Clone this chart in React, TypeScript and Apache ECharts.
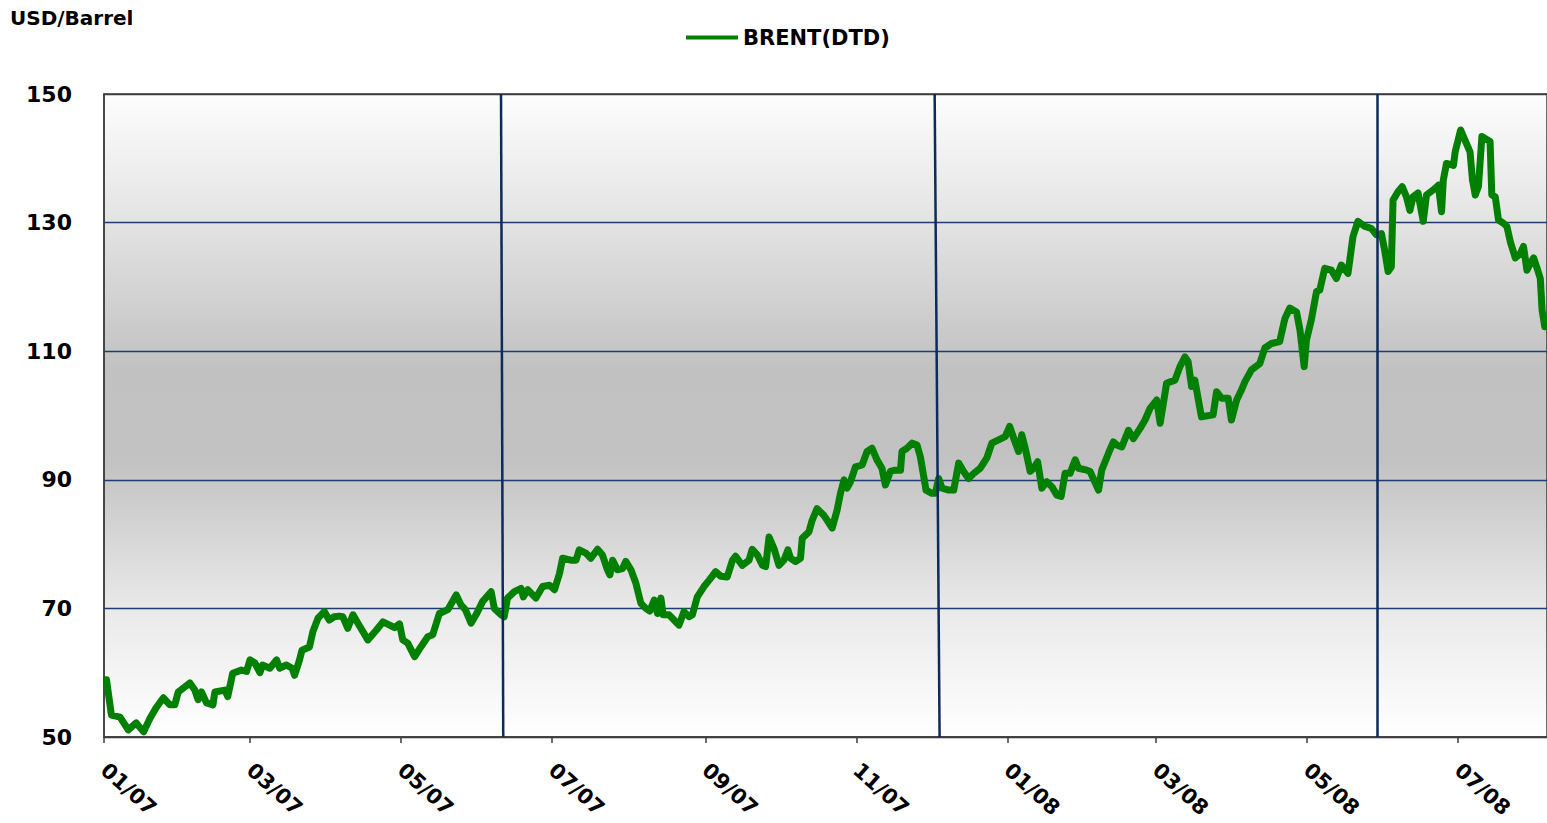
import React, { useEffect, useRef } from "react";
import * as echarts from "echarts";

// x values are days counted from 1 Jan 2007
const tickDays = [0, 59, 120, 181, 243, 304, 365, 425, 486, 547];
const tickLabels = ["01/07", "03/07", "05/07", "07/07", "09/07", "11/07", "01/08", "03/08", "05/08", "07/08"];

const brentDays = [
  1, 3, 6.5, 9.8, 13, 16, 18.6, 21, 24, 26.6, 28.6, 30, 34.7, 36.7, 38, 39.4, 41.4, 44, 44.8, 48.8,
  50, 52, 55.5, 57.6, 59, 61, 63, 64, 67, 69.7, 71, 73.7, 76, 77, 79, 80, 83, 84.4, 86.5, 89,
  91, 93, 95, 96.5, 98.5, 100.6, 103, 106.6, 110, 112.7, 115.4, 117.4, 119.4, 120.7, 122.7, 125.5, 128, 130.8, 132.8, 135.5,
  138.9, 142.3, 144.3, 146, 148.3, 150.3, 153, 156.4, 157.7, 160.4, 161.7, 163, 165.8, 168.5, 169.4, 171.2, 174.5, 177.2, 180, 182,
  184, 185.3, 188.6, 190.7, 192, 194.7, 196.7, 199.4, 201.4, 203.4, 204.4, 205.5, 207.4, 209.5, 210.8, 212.9, 214.9, 216.9, 218.9, 220.5,
  222.3, 223.6, 225, 225.9, 228.3, 230.3, 232.3, 234.3, 236.4, 237.7, 239.7, 242.4, 244.5, 247.1, 249.2, 251.8, 253.9, 255.2, 257.9, 260.6,
  261.9, 264, 266, 267.3, 268.7, 270.7, 272.7, 274.7, 276.3, 277.4, 279.4, 281.4, 282.1, 284.8, 286.1, 288.1, 290.8, 294.2, 296.2, 297.6,
  299, 300.2, 301.6, 303.6, 306.3, 308.3, 310.3, 312.3, 314.3, 315.7, 317.7, 319.7, 321.8, 322.4, 324.4, 326.5, 328.5, 329.8, 331.2, 332.1,
  334.5, 335.9, 337.2, 338.6, 341.3, 343.3, 345.3, 347.3, 349.3, 351.4, 354, 356.7, 358.7, 361.4, 364.1, 365.9, 367.5, 369.5, 370.8, 372.2,
  374.2, 375.6, 377.2, 378.9, 380.9, 383, 385, 386.7, 388.3, 390.3, 392.4, 393.7, 397.1, 398.4, 401.8, 403.1, 405.8, 407.8, 409.2, 411.2,
  413.9, 415.9, 418.6, 420.6, 422.6, 425.3, 426.7, 429.3, 432.7, 434.7, 436.7, 438, 439.4, 440.7, 443.4, 448.1, 449.5, 451.5, 454.2, 455.5,
  457.6, 459.6, 461, 463.6, 467, 469, 471.7, 475, 477.1, 479.1, 481.8, 483.2, 484.9, 485.8, 487.8, 489.9, 491.2, 493.2, 495.9, 497.9,
  499.9, 502.6, 504.6, 506.6, 509.4, 512, 514.1, 516.1, 517.4, 518.8, 520.1, 520.8, 522.8, 524.5, 526.2, 527.6, 528.9, 530.9, 533, 534.3,
  537.1, 539.1, 540.4, 541.1, 542.4, 545.2, 545.9, 548.1, 549.9, 551.9, 552.9, 554, 555.3, 556.7, 560, 560.7, 562.1, 563.4, 565.4, 566.8,
  568.2, 570.2, 572.2, 573.5, 574.9, 576.3, 577.6, 579, 580.3, 581, 582.1,
];

const brentValues = [
  58.9, 53.4, 53.1, 51.1, 52.2, 50.8, 52.9, 54.5, 56.1, 55.0, 55.0, 57.0, 58.4, 57.3, 55.8, 57.0, 55.3, 55.0, 57.0, 57.3,
  56.3, 59.9, 60.4, 60.2, 62.0, 61.5, 60.0, 61.2, 60.7, 62.0, 60.7, 61.2, 60.7, 59.6, 62.0, 63.5, 64.0, 66.4, 68.5, 69.5,
  68.2, 68.7, 68.8, 68.7, 66.9, 69.0, 67.4, 65.1, 66.6, 67.9, 67.4, 67.0, 67.6, 65.1, 64.6, 62.5, 64.0, 65.6, 65.9, 69.2,
  69.8, 72.1, 70.5, 69.8, 67.7, 69.0, 71.1, 72.6, 70.0, 69.0, 68.7, 71.6, 72.6, 73.1, 71.8, 72.9, 71.6, 73.4, 73.6, 72.9,
  75.4, 77.8, 77.5, 77.5, 79.1, 78.6, 77.8, 79.2, 78.3, 76.0, 75.2, 77.5, 76.0, 76.2, 77.3, 76.0, 73.9, 70.8, 70.0, 69.6,
  71.3, 69.2, 71.6, 69.0, 69.0, 68.2, 67.4, 69.5, 68.7, 69.0, 71.8, 73.4, 74.4, 75.7, 75.0, 74.9, 77.5, 78.1, 76.7, 77.5,
  79.2, 78.3, 76.7, 76.5, 81.1, 79.3, 76.7, 77.5, 79.1, 77.8, 77.3, 77.8, 80.9, 81.9, 83.7, 85.5, 84.5, 82.5, 85.3, 88.0,
  90.0, 88.7, 89.7, 92.0, 92.3, 94.4, 94.9, 93.1, 91.8, 89.2, 91.3, 91.5, 91.5, 94.4, 94.9, 95.7, 95.4, 93.6, 90.5, 88.4,
  87.9, 87.9, 90.2, 88.7, 88.4, 88.4, 92.6, 91.3, 90.2, 91.0, 91.8, 93.4, 95.7, 96.2, 96.7, 98.3, 96.5, 94.4, 97.0, 94.9,
  91.3, 91.8, 92.8, 88.7, 89.7, 88.9, 87.6, 87.4, 91.0, 91.0, 93.1, 91.8, 91.5, 91.3, 88.4, 91.5, 94.1, 95.9, 95.4, 95.1,
  97.7, 96.4, 98.0, 99.3, 101.1, 102.4, 98.8, 105.0, 105.5, 107.6, 109.1, 108.4, 104.5, 105.5, 99.8, 100.1, 103.7, 102.7, 102.7, 99.3,
  102.4, 104.0, 105.3, 107.1, 108.1, 110.5, 111.2, 111.5, 115.1, 116.7, 116.1, 113.3, 107.6, 111.7, 114.9, 119.3, 119.5, 122.9, 122.6, 121.3,
  123.4, 122.1, 127.8, 130.2, 129.4, 129.1, 128.1, 128.3, 125.7, 122.4, 123.1, 133.5, 134.8, 135.6, 134.0, 131.9, 134.0, 134.6, 130.2, 134.3,
  135.1, 135.8, 131.7, 136.6, 139.2, 138.9, 141.0, 144.4, 142.8, 141.0, 136.6, 134.3, 135.6, 143.4, 142.6, 134.3, 134.0, 130.4, 129.9, 129.4,
  127.0, 124.5, 125.2, 126.3, 122.6, 123.7, 124.5, 122.9, 121.3, 116.4, 113.8,
];

// vertical annotation lines: [day at top, day at bottom]
const markerDays = [
  [160.4, 161.3],
  [335.6, 337.6],
  [514.3, 514.3],
];

const FONT = '"DejaVu Sans", "Liberation Sans", sans-serif';
const NAVY = "#1d3d72";
const AXIS = "#3c3c3c";

export default function App() {
  const ref = useRef<HTMLDivElement>(null);

  useEffect(() => {
    if (!ref.current) return;
    const chart = echarts.init(ref.current, undefined, { renderer: "svg" });

    const seriesData = brentDays.map((d, i) => [d, brentValues[i]]);
    const markLines = markerDays.map(([a, b]) => [
      { coord: [a, 150] },
      { coord: [b, 50] },
    ]);

    chart.setOption({
      animation: false,
      backgroundColor: "#ffffff",
      title: {
        text: "USD/Barrel",
        left: 10,
        top: 8,
        padding: 0,
        textStyle: { fontFamily: FONT, fontSize: 20, fontWeight: "bold", color: "#000" },
      },
      legend: {
        data: ["BRENT(DTD)"],
        left: 686,
        top: 27,
        padding: 0,
        itemWidth: 52,
        itemHeight: 4,
        icon: "rect",
        textStyle: { fontFamily: FONT, fontSize: 21, fontWeight: "bold", color: "#000" },
      },
      grid: {
        left: 104,
        right: -2,
        top: 94,
        bottom: 86,
        show: true,
        borderColor: AXIS,
        borderWidth: 1.5,
        backgroundColor: new echarts.graphic.LinearGradient(0, 0, 0, 1, [
          { offset: 0, color: "#fdfdfd" },
          { offset: 0.2, color: "#e3e3e3" },
          { offset: 0.43, color: "#c1c1c1" },
          { offset: 0.57, color: "#c2c2c2" },
          { offset: 0.8, color: "#e9e9e9" },
          { offset: 1, color: "#ffffff" },
        ]),
      },
      xAxis: {
        type: "value",
        min: 0,
        max: 583,
        axisLine: { show: true, lineStyle: { color: AXIS, width: 1.5 } },
        axisTick: {
          show: true,
          customValues: tickDays,
          length: 6,
          lineStyle: { color: AXIS, width: 1.5 },
        },
        axisLabel: {
          customValues: tickDays,
          rotate: -42,
          margin: 30,
          fontFamily: FONT,
          fontSize: 21,
          fontWeight: "bold",
          color: "#000",
          formatter: (v: number) => {
            const i = tickDays.indexOf(Math.round(v));
            return i >= 0 ? tickLabels[i] : "";
          },
        },
        splitLine: { show: false },
      },
      yAxis: {
        type: "value",
        min: 50,
        max: 150,
        interval: 20,
        axisLine: { show: true, lineStyle: { color: AXIS, width: 1.5 } },
        axisTick: { show: false },
        axisLabel: {
          margin: 32,
          fontFamily: FONT,
          fontSize: 22,
          fontWeight: "bold",
          color: "#000",
        },
        splitLine: {
          show: true,
          lineStyle: { color: [AXIS, NAVY, NAVY, NAVY, NAVY, AXIS], width: 1.4 },
        },
      },
      series: [
        {
          name: "markers",
          type: "line",
          data: [],
          silent: true,
          markLine: {
            silent: true,
            symbol: ["none", "none"],
            label: { show: false },
            lineStyle: { color: "#0d2a5c", width: 2.5, type: "solid" },
            data: markLines,
          },
        },
        {
          name: "BRENT(DTD)",
          type: "line",
          data: seriesData,
          showSymbol: false,
          symbol: "none",
          smooth: false,
          lineStyle: { color: "#008000", width: 7, join: "round", cap: "round" },
          itemStyle: { color: "#008000" },
          z: 3,
        },
      ],
    });

    return () => chart.dispose();
  }, []);

  return (
    <div
      ref={ref}
      style={{ position: "fixed", left: 0, top: 0, width: 1547, height: 823 }}
    />
  );
}
